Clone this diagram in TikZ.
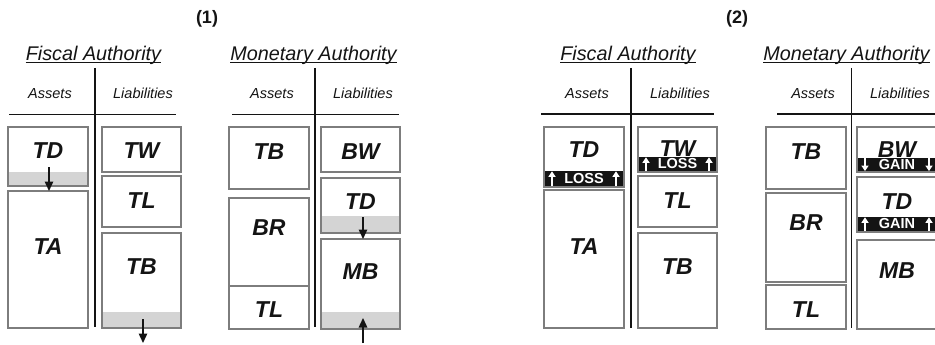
\documentclass[tikz,border=0pt]{standalone}
\usepackage{fontspec}
\setmainfont{Liberation Sans}
\usetikzlibrary{arrows.meta}
\definecolor{boxgray}{RGB}{125,125,125}
\definecolor{bandgray}{RGB}{212,212,212}
\definecolor{inkblack}{RGB}{20,20,20}
\newcommand\acct[7]{%
  \node[acbox, anchor=north west, minimum width={#4-#2}, minimum height={#5-#3}] (#1) at (#2,#3) {};
  \node[aclbl] (#1l) at ({(#2+#4)/2},#7) {#6};}
\newcommand\gband[2]{%
  \fill[bandgray] ([shift={(0.9pt,0.9pt)}]#1.south west) rectangle ([shift={(-0.9pt,#2)}]#1.south east);}
\newcommand\bband[4]{%
  \fill[inkblack] ([shift={(0.9pt,0.9pt)}]#1.south west) rectangle ([shift={(-0.9pt,#2)}]#1.south east);
  \node[bandtxt] (#1t) at ([yshift={#2/2+0.6pt}]#1.south) {#3};
  \draw[warr,#4] ([shift={(8pt,0.9pt)}]#1.south west) -- ([shift={(8pt,#2-0.3pt)}]#1.south west);
  \draw[warr,#4] ([shift={(-8pt,0.9pt)}]#1.south east) -- ([shift={(-8pt,#2-0.3pt)}]#1.south east);}
\begin{document}
\begin{tikzpicture}[x=1pt,y=-1pt,
  acbox/.style={draw=boxgray, line width=1.9pt, fill=white, inner sep=0pt, outer sep=0pt},
  aclbl/.style={font=\fontsize{23}{23}\selectfont\bfseries\itshape, inner sep=0pt, text=inkblack},
  hdr/.style={font=\fontsize{14.5}{14.5}\selectfont\itshape, inner sep=0pt, text=inkblack},
  ttl/.style={font=\fontsize{19.8}{20}\selectfont\itshape, inner sep=0pt, text=inkblack},
  num/.style={font=\fontsize{18}{18}\selectfont\bfseries, inner sep=0pt, text=inkblack},
  tline/.style={line width=1.4pt, inkblack},
  uline/.style={line width=1.2pt, inkblack},
  darr/.style={line width=1.4pt, inkblack, -{Triangle[width=8.5pt,length=9.5pt]}},
  bandtxt/.style={text=white, font=\fontsize{14.5}{14.5}\selectfont\bfseries, inner sep=0pt},
  warr/.style={white, line width=2pt},
  wup/.style={-{Triangle[width=7pt,length=5.5pt]}},
  wdown/.style={{Triangle[width=7pt,length=5.5pt]}-}]
\useasboundingbox (0,0) rectangle (935,345);
\clip (0,0) rectangle (935,345);

% ---------------- Panel (1) ----------------
\node[num] (n1) at (207,19) {(1)};

% Fiscal authority
\node[ttl, anchor=base] (ft1) at (93.5,60.5) {Fiscal Authority};
\draw[uline] ([yshift=-2.3pt]ft1.base west) -- ([yshift=-2.3pt]ft1.base east);
\node[hdr, anchor=base] (fa1) at (50,99) {Assets};
\node[hdr, anchor=base] (fl1) at (143,99) {Liabilities};
\draw[tline] (95,68) -- (95,327);
\draw[tline] (9,114.5) -- (176,114.5);

\acct{fTD}{8}{127}{88}{186}{TD}{151}
\gband{fTD}{14pt}
\acct{fTA}{8}{191}{88}{328}{TA}{247}
\acct{fTW}{102}{127}{181}{172}{TW}{151}
\acct{fTL}{102}{176}{181}{227}{TL}{201}
\acct{fTB}{102}{233}{181}{328}{TB}{267}
\gband{fTB}{16pt}
\coordinate (a1) at (49,167);
\draw[darr] (a1) -- (a1 |- fTA.north);
\coordinate (a2) at (143,319);
\coordinate (a2e) at (143,343);
\draw[darr] (a2) -- (a2e);

% Monetary authority
\node[ttl, anchor=base] (mt1) at (313.5,60.5) {Monetary Authority};
\draw[uline] ([yshift=-2.3pt]mt1.base west) -- ([yshift=-2.3pt]mt1.base east);
\node[hdr, anchor=base] (ma1) at (272,99) {Assets};
\node[hdr, anchor=base] (ml1) at (363,99) {Liabilities};
\draw[tline] (315,68) -- (315,327);
\draw[tline] (232,114.5) -- (399,114.5);

\acct{mTB}{229}{127}{309}{189}{TB}{152}
\acct{mBR}{229}{198}{309}{286}{BR}{228}
\acct{mTL}{229}{286}{309}{329}{TL}{310}
\acct{mBW}{321}{127}{400}{172}{BW}{152}
\acct{mTD}{321}{178}{400}{233}{TD}{202}
\gband{mTD}{17pt}
\acct{mMB}{321}{239}{400}{329}{MB}{272}
\gband{mMB}{17pt}
\coordinate (a3) at (363,217);
\draw[darr] (a3) -- (a3 |- mMB.north);
\coordinate (a4) at (363,343);
\coordinate (a4e) at (363,318);
\draw[darr] (a4) -- (a4e);

% ---------------- Panel (2) ----------------
\node[num] (n2) at (737,19) {(2)};

% Fiscal authority
\node[ttl, anchor=base] (ft2) at (628,60.5) {Fiscal Authority};
\draw[uline] ([yshift=-2.3pt]ft2.base west) -- ([yshift=-2.3pt]ft2.base east);
\node[hdr, anchor=base] (fa2) at (587,99) {Assets};
\node[hdr, anchor=base] (fl2) at (680,99) {Liabilities};
\draw[tline] (631,68) -- (631,328);
\draw[tline] (541,114) -- (714,114);

\acct{gTD}{544}{127}{624}{187}{TD}{150}
\bband{gTD}{16pt}{LOSS}{wup}
\acct{gTA}{544}{190}{624}{328}{TA}{247}
\acct{gTW}{638}{127}{717}{172}{TW}{149}
\bband{gTW}{15pt}{LOSS}{wup}
\acct{gTL}{638}{176}{717}{227}{TL}{201}
\acct{gTB}{638}{233}{717}{328}{TB}{267}

% Monetary authority
\node[ttl, anchor=base] (mt2) at (846.5,60.5) {Monetary Authority};
\draw[uline] ([yshift=-2.3pt]mt2.base west) -- ([yshift=-2.3pt]mt2.base east);
\node[hdr, anchor=base] (ma2) at (813,99) {Assets};
\node[hdr, anchor=base] (ml2) at (900,99) {Liabilities};
\draw[tline] (851.5,68) -- (851.5,328);
\draw[tline] (777,114) -- (936,114);

\acct{hTB}{766}{127}{846}{189}{TB}{152}
\acct{hBR}{766}{193}{846}{282}{BR}{223}
\acct{hTL}{766}{285}{846}{329}{TL}{310}
\acct{hBW}{857}{127}{937}{172}{BW}{150}
\bband{hBW}{14pt}{GAIN}{wdown}
\acct{hTD}{857}{177}{937}{232}{TD}{202}
\bband{hTD}{15pt}{GAIN}{wup}
\acct{hMB}{857}{240}{937}{329}{MB}{271}
\end{tikzpicture}
\end{document}
